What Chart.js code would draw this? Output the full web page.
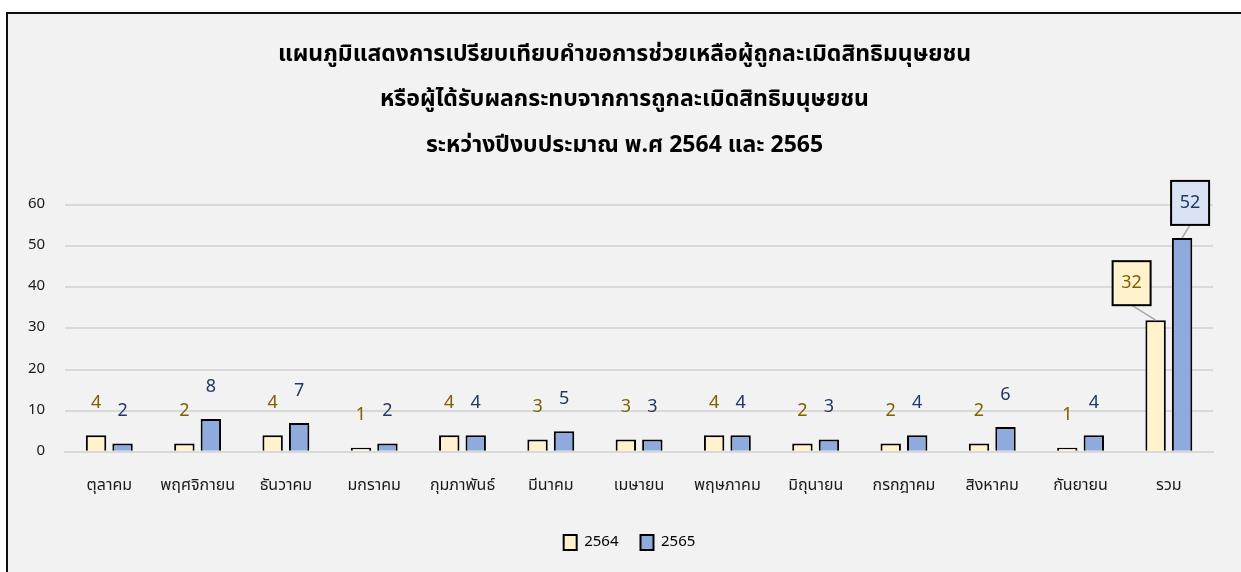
<!DOCTYPE html>
<html><head><meta charset="utf-8">
<script src="https://cdn.jsdelivr.net/npm/chart.js@4"></script>
<style>
html,body{margin:0;padding:0;background:#fff;width:1241px;height:572px;overflow:hidden}
#frame{position:absolute;left:6px;top:12px;width:1235px;height:560px;border-left:2px solid #0d0d0d;border-top:2px solid #0d0d0d;background:#f2f2f2}
canvas{display:block}
</style></head><body>
<div id="frame"><canvas id="c" width="1233" height="558"></canvas></div>
<script>
const categories = ['ตุลาคม','พฤศจิกายน','ธันวาคม','มกราคม','กุมภาพันธ์','มีนาคม','เมษายน','พฤษภาคม','มิถุนายน','กรกฎาคม','สิงหาคม','กันยายน','รวม'];
const values2564 = [4,2,4,1,4,3,3,4,2,2,2,1,32];
const values2565 = [2,8,7,2,4,5,3,4,3,4,6,4,52];
const seriesNames = ['2564','2565'];
const titleLines = ['แผนภูมิแสดงการเปรียบเทียบคำขอการช่วยเหลือผู้ถูกละเมิดสิทธิมนุษยชน','หรือผู้ได้รับผลกระทบจากการถูกละเมิดสิทธิมนุษยชน','ระหว่างปีงบประมาณ พ.ศ 2564 และ 2565'];

const FONT = "'Noto Sans Thai','Leelawadee UI','Tahoma','Noto Sans',sans-serif";
const labelColors = ['#7f6000','#1f3864'];
const boxFills = ['#fff2cc','#dae3f3'];

const titlePlugin = {
  id:'centeredTitle',
  afterDraw(chart){
    const ctx = chart.ctx;
    ctx.save();
    ctx.font = "bold 23px " + FONT;
    ctx.fillStyle = '#000';
    ctx.textAlign='center'; ctx.textBaseline='middle';
    titleLines.forEach((t,i)=>ctx.fillText(t, chart.width/2, 42 + i*45.5));
    ctx.restore();
  }
};

const legendShift = {
  id:'legendShift',
  afterLayout(chart){
    if(chart.legend){ chart.legend.left += 19; chart.legend.right += 19; }
  }
};

const labelPlugin = {
  id:'valueLabels',
  afterDatasetsDraw(chart){
    const ctx = chart.ctx;
    const last = categories.length-1;
    chart.data.datasets.forEach((ds,di)=>{
      const meta = chart.getDatasetMeta(di);
      meta.data.forEach((bar,i)=>{
        const v = ds.data[i];
        ctx.save();
        ctx.font = "18px " + FONT;
        ctx.textAlign='center'; ctx.textBaseline='middle';
        if(i!==last){
          ctx.fillStyle = labelColors[di];
          ctx.fillText(String(v), bar.x, bar.y-31);
        } else {
          const dx = di===0 ? -24 : 8;
          const dy = di===0 ? -37 : -35;
          const cx = bar.x+dx, cy = bar.y+dy;
          const w=38,h=44;
          ctx.strokeStyle='#a6a6a6'; ctx.lineWidth=1.5;
          ctx.beginPath(); ctx.moveTo(cx, cy+h/2); ctx.lineTo(bar.x, bar.y); ctx.stroke();
          ctx.fillStyle=boxFills[di];
          ctx.fillRect(cx-w/2, cy-h/2, w, h);
          ctx.strokeStyle='#000'; ctx.lineWidth=2;
          ctx.strokeRect(cx-w/2, cy-h/2, w, h);
          ctx.fillStyle = labelColors[di];
          ctx.fillText(String(v), cx, cy+1);
        }
        ctx.restore();
      });
    });
  }
};

new Chart(document.getElementById('c'),{
  type:'bar',
  data:{
    labels:categories,
    datasets:[
      {label:seriesNames[0],data:values2564,backgroundColor:'#fff2cc',borderColor:'#000',borderWidth:2,borderSkipped:'bottom'},
      {label:seriesNames[1],data:values2565,backgroundColor:'#8faadc',borderColor:'#000',borderWidth:2,borderSkipped:'bottom'}
    ]
  },
  options:{
    responsive:false,animation:false,
    layout:{padding:{left:0,right:28,top:191,bottom:12}},
    datasets:{bar:{categoryPercentage:0.6,barPercentage:0.77}},
    scales:{
      x:{grid:{display:false},border:{display:true,color:'#d9d9d9',width:2},
         ticks:{color:'#1a1a1a',font:{family:FONT,size:16},padding:17,maxRotation:0,autoSkip:false}},
      y:{min:0,max:60,ticks:{stepSize:10,color:'#1a1a1a',font:{family:FONT,size:15},padding:20},
         grid:{color:'#d9d9d9',lineWidth:2,drawTicks:false},border:{display:false}}
    },
    plugins:{
      title:{display:false},
      legend:{position:'bottom',labels:{color:'#000',font:{family:FONT,size:15},boxWidth:13,boxHeight:15,padding:22,useBorderRadius:false}},
      tooltip:{enabled:false}
    }
  },
  plugins:[labelPlugin,titlePlugin,legendShift]
});
</script></body></html>
